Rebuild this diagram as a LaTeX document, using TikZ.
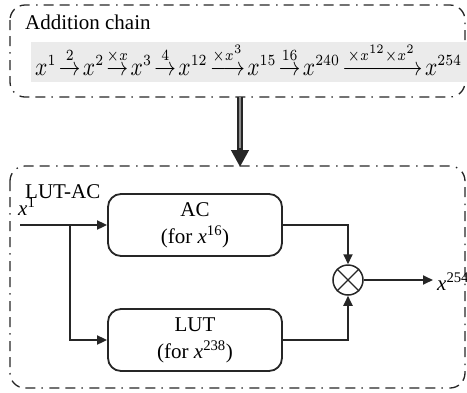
\documentclass[tikz,border=0pt]{standalone}
\usepackage{fontspec}
\usepackage{amsmath}
\setmainfont{Liberation Serif}
\DeclareMathSizes{10}{10}{6.2}{5}
\usetikzlibrary{arrows.meta}
\newcommand{\stepto}[1]{\mathrel{\overset{#1}{\to}}}
\newcommand{\longstep}[1]{\mathrel{\overset{#1}{\longrightarrow}}}
\begin{document}
\begin{tikzpicture}[x=1pt, y=-1pt,
  group/.style={draw=black!85, line width=1.3pt, rounded corners=15pt,
    dash pattern=on 10pt off 6pt on 10pt off 6pt on 1.5pt off 6.5pt},
  block/.style={draw=black!85, line width=1.8pt, rounded corners=13pt,
    minimum width=174pt, minimum height=62pt, align=center, inner sep=0pt},
  wire/.style={draw=black!85, line width=1.8pt},
  tip/.style={-{Triangle[length=10pt, width=9pt]}},
  txt/.style={font=\fontsize{21}{27}\selectfont, inner sep=0pt}]
\useasboundingbox (0,0) rectangle (467,392);

% addition chain panel
\draw[group] (10,5) rectangle (465,97);
\fill[black!8] (31,42) rectangle (467,82);
\node[txt, anchor=base west] (title1) at (25,29) {Addition chain};
\node[inner sep=0pt, anchor=base west] (chain) at (35,75) {\scalebox{1}[1.2]{\resizebox{427pt}{!}{\fontsize{10}{12}\selectfont\thickmuskip=2mu $x^1 \stepto{2} x^2 \stepto{\times x} x^3 \stepto{4} x^{12} \longstep{\times x^3} x^{15} \stepto{16} x^{240} \xrightarrow{\times x^{12} \times x^2} x^{254}$}}};

% LUT-AC panel
\draw[group] (10,166) rectangle (465,388);
\node[txt, anchor=base west] (title2) at (25,198) {LUT-AC};
\node[txt, anchor=base west] (xin) at (18,215) {\textit{x}\textsuperscript{1}};

\node[block, txt] (ac) at (195,225) {AC\\(for \textit{x}\textsuperscript{16})};
\node[block, txt] (lut) at (195,340) {LUT\\(for \textit{x}\textsuperscript{238})};
\node[draw=black!85, line width=1.5pt, circle, minimum size=30pt, inner sep=0pt] (mul) at (348,280) {};
\draw[black!85, line width=1.3pt] (mul.north west) -- (mul.south east) (mul.north east) -- (mul.south west);

\coordinate (start) at (20,225);
\coordinate (split) at (70,225);
\coordinate (outend) at (433,280);
\node[txt, anchor=base west] (xout) at (437,290) {\textit{x}\textsuperscript{254}};

\draw[wire, tip] (start) -- (ac.west);
\draw[wire, tip] (split) |- (lut.west);
\draw[wire, tip] (ac.east) -| (mul.north);
\draw[wire, tip] (lut.east) -| (mul.south);
\draw[wire, tip] (mul.east) -- (outend);

% link between the panels
\coordinate (linktop) at (240,97);
\coordinate (linkbot) at (240,167);
\draw[black!85, line width=6pt, -{Triangle[length=17pt, width=17pt]}] (linktop) -- (linkbot);
\draw[black!45, line width=1.2pt] (linktop) -- (240,148);
\end{tikzpicture}
\end{document}
